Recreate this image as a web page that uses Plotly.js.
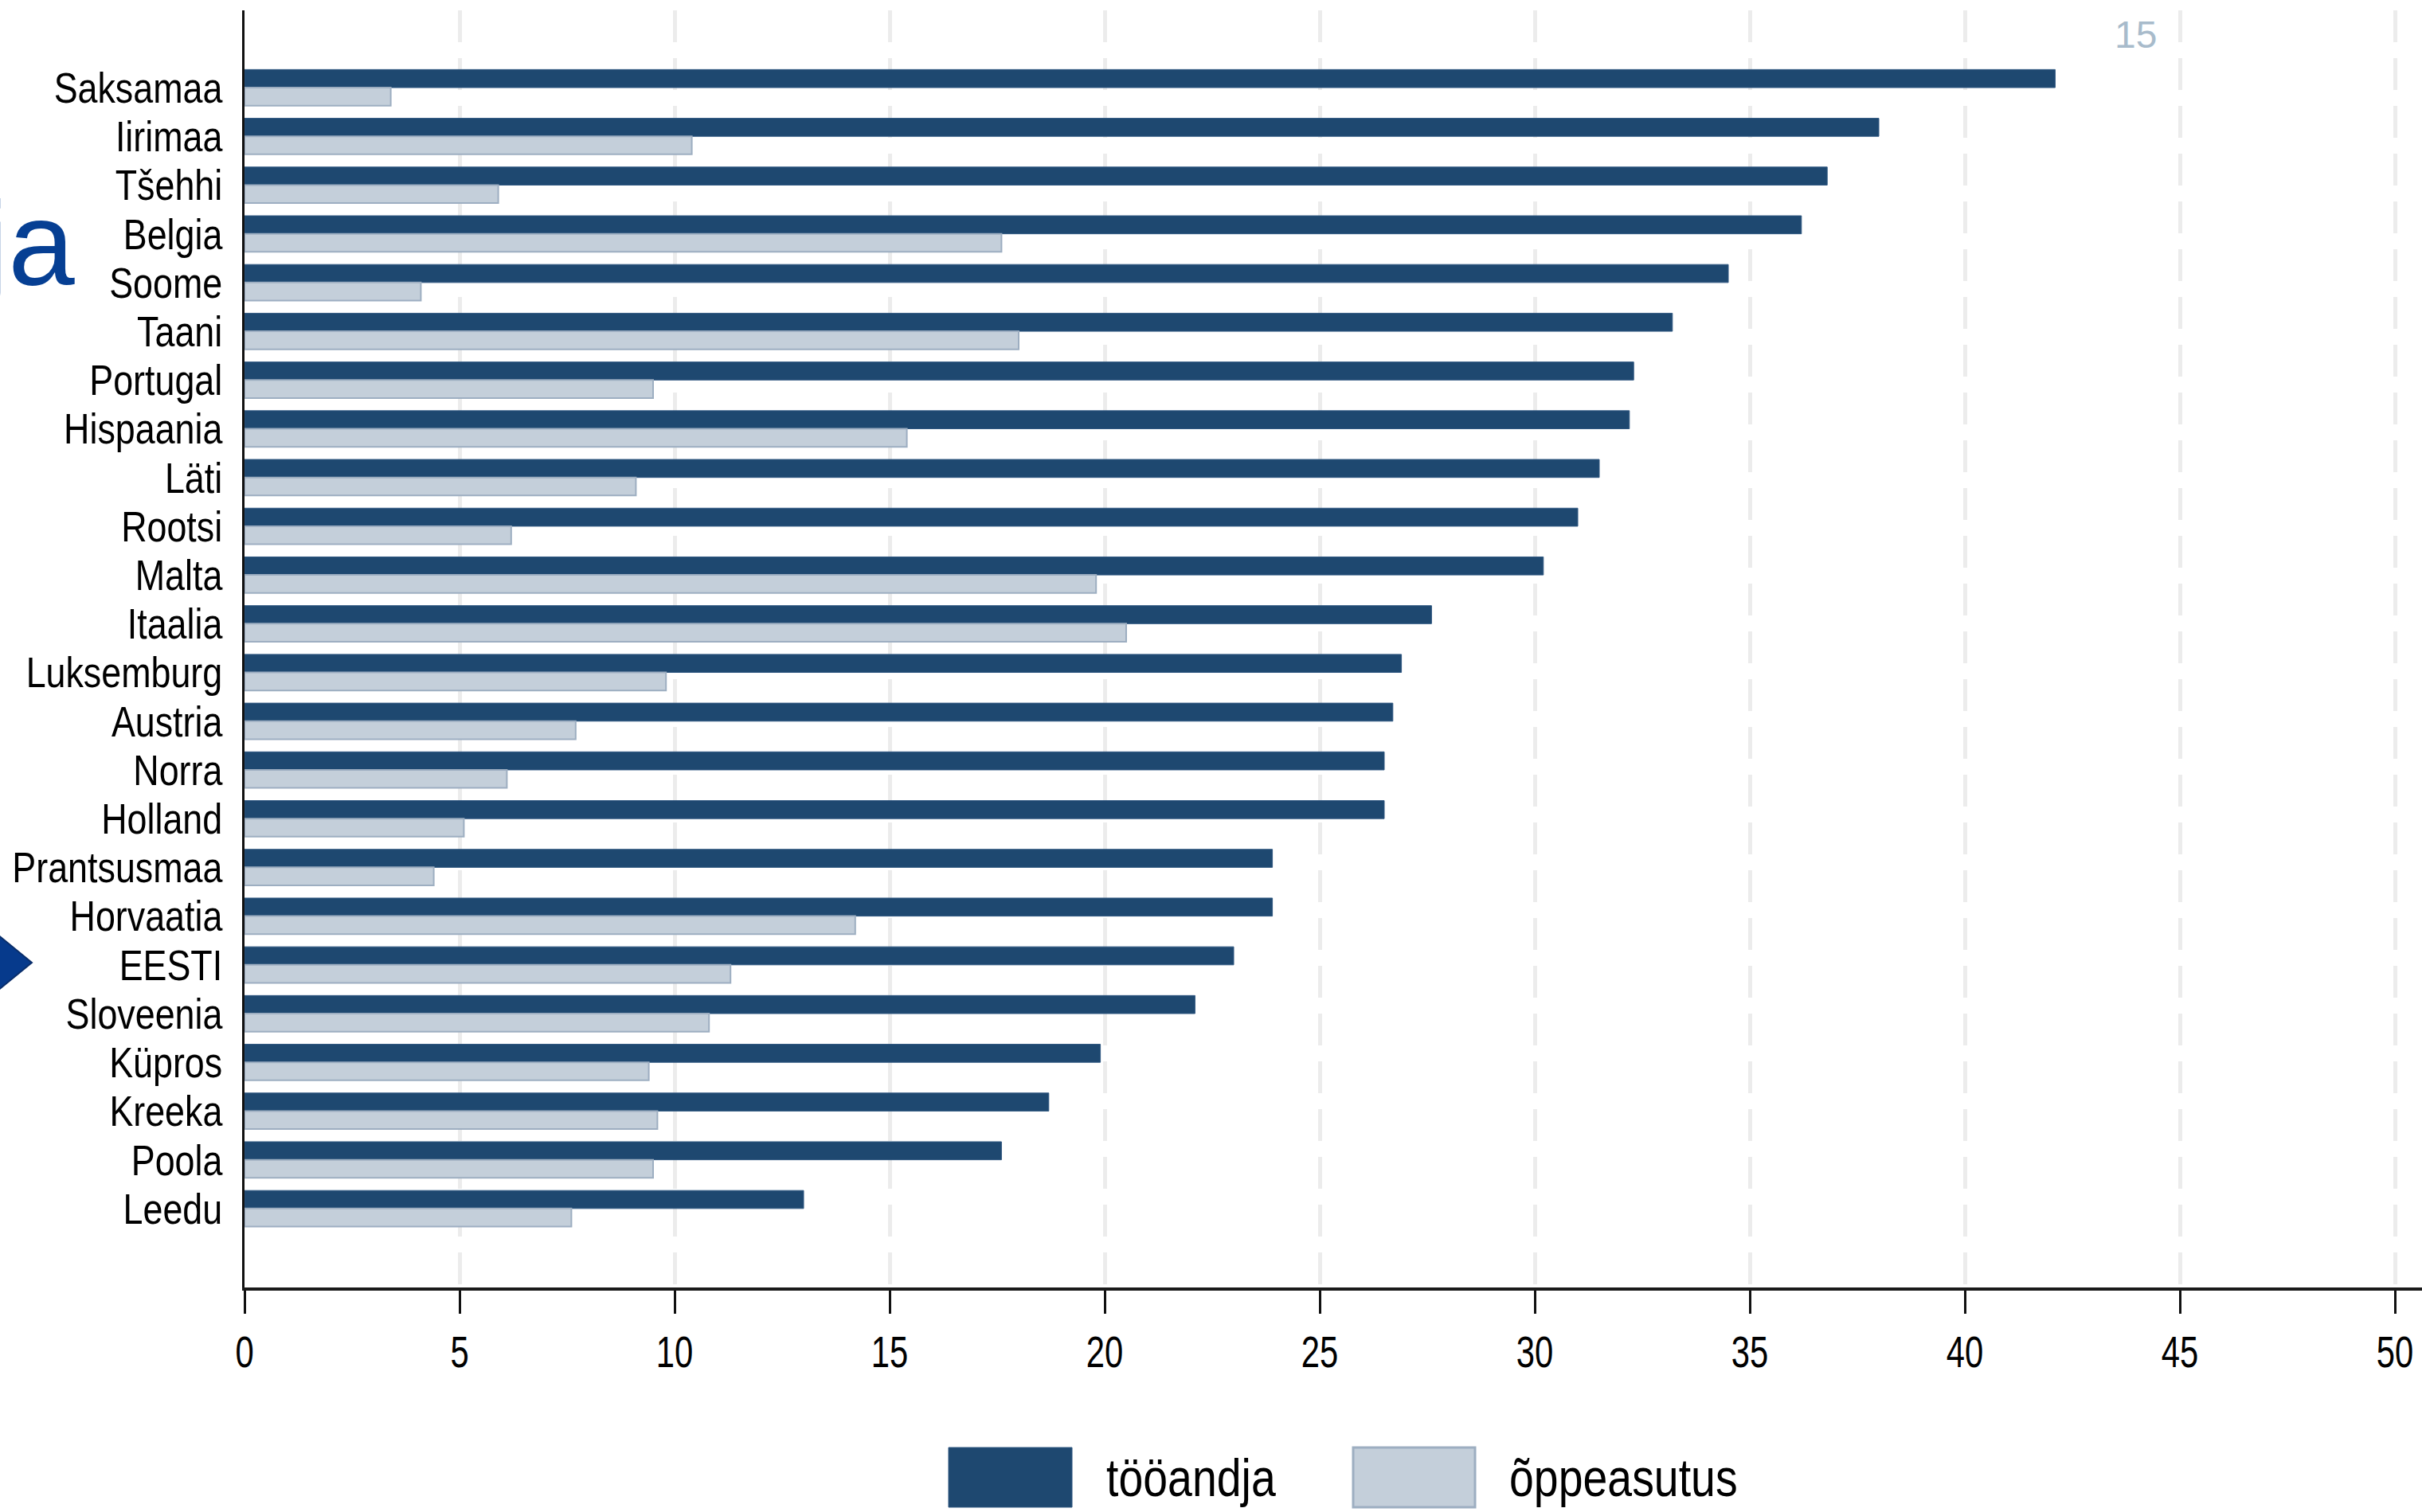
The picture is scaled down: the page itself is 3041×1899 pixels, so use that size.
<!DOCTYPE html>
<html>
<head>
<meta charset="utf-8">
<script src="https://cdn.plot.ly/plotly-3.0.1.min.js"></script>
<style>
html,body{margin:0;padding:0;background:#fff;}
#chart{width:3041px;height:1899px;}
</style>
</head>
<body>
<div id="chart"></div>
<script>
// Data
const countries = ["Saksamaa","Iirimaa","Tšehhi","Belgia","Soome","Taani","Portugal","Hispaania","Läti","Rootsi","Malta","Itaalia","Luksemburg","Austria","Norra","Holland","Prantsusmaa","Horvaatia","EESTI","Sloveenia","Küpros","Kreeka","Poola","Leedu"];
const tooandja = [42.1,38.0,36.8,36.2,34.5,33.2,32.3,32.2,31.5,31.0,30.2,27.6,26.9,26.7,26.5,26.5,23.9,23.9,23.0,22.1,19.9,18.7,17.6,13.0];
const oppeasutus = [3.4,10.4,5.9,17.6,4.1,18.0,9.5,15.4,9.1,6.2,19.8,20.5,9.8,7.7,6.1,5.1,4.4,14.2,11.3,10.8,9.4,9.6,9.5,7.6];
const seriesNames = ["tööandja","õppeasutus"];
const xTicks = [0,5,10,15,20,25,30,35,40,45,50];
const pageNumber = "15";
const titleFragment = "ja";

const darkCol = "#1E4870";
const lightCol = "#C4CFDA";

// use an Arial-Narrow-like font if installed, otherwise condense Liberation Sans
function hasFont(name){
  const c = document.createElement("canvas").getContext("2d");
  const t = "Luksemburg Prantsusmaa 0123456789";
  let diff = false;
  ["monospace","serif"].forEach(g=>{
    c.font = "50px " + g; const a = c.measureText(t).width;
    c.font = `50px "${name}", ${g}`; const b = c.measureText(t).width;
    if (Math.abs(a-b) > 0.5) diff = true;
  });
  return diff;
}
const narrowCandidates = ["Liberation Sans Narrow","Arial Narrow"];
const narrowFound = narrowCandidates.find(hasFont);
const narrow = narrowFound ? `"${narrowFound}", sans-serif` : "Liberation Sans, Arial, sans-serif";

const W = 3041, H = 1899;
const mL = 307, mR = 0, mT = 13, mB = 282;
const pw = W - mL - mR, ph = H - mT - mB;
const px = X => (X - mL) / pw;
const py = Y => (H - mB - Y) / ph;

const traces = [
  {type:"bar", orientation:"h", name:seriesNames[0], y:countries, x:tooandja,
   marker:{color:darkCol, line:{color:"#2F5780", width:1}}, showlegend:false},
  {type:"bar", orientation:"h", name:seriesNames[1], y:countries, x:oppeasutus,
   marker:{color:lightCol, line:{color:"#9DAEC1", width:2}}, showlegend:false}
];

const layout = {
  width:W, height:H,
  margin:{l:mL, r:mR, t:mT, b:mB, pad:0},
  paper_bgcolor:"#ffffff", plot_bgcolor:"#ffffff",
  barmode:"group", bargap:0.26, bargroupgap:0,
  showlegend:false,
  xaxis:{
    range:[0,(W-mL-mR)/54], tickmode:"array", tickvals:xTicks, ticktext:xTicks.map(String),
    showgrid:true, gridcolor:"#ECECEC", gridwidth:5, griddash:"40px,20px",
    zeroline:false, showline:true, linecolor:"#1a1a1a", linewidth:4,
    ticks:"outside", ticklen:29, tickwidth:3, tickcolor:"#111",
    tickfont:{family:narrow, size:55, color:"#000"}, ticklabelstandoff:1,
    fixedrange:true
  },
  yaxis:{
    type:"category", categoryorder:"array", categoryarray:countries,
    tickmode:"linear", tick0:0, dtick:1,
    range:[24.62,-1.585],
    showgrid:false, zeroline:false, showline:true, linecolor:"#111", linewidth:3,
    ticks:"", tickfont:{family:narrow, size:54, color:"#000"}, ticklabelstandoff:14,
    fixedrange:true
  },
  shapes:[
    // legend swatches
    {type:"rect", xref:"paper", yref:"paper", x0:px(1191), x1:px(1346), y0:py(1818), y1:py(1893),
     fillcolor:darkCol, line:{color:"#2F5780", width:1}},
    {type:"rect", xref:"paper", yref:"paper", x0:px(1699), x1:px(1852), y0:py(1818), y1:py(1893),
     fillcolor:lightCol, line:{color:"#9DAEC1", width:3}},
    // slide arrow marker at left edge
    {type:"path", xref:"paper", yref:"paper",
     path:`M ${px(-10)} ${py(1168)} L ${px(40)} ${py(1209)} L ${px(-10)} ${py(1250)} Z`,
     fillcolor:"#063A8C", line:{color:"#0A2E6A", width:2}}
  ],
  annotations:[
    {xref:"paper", yref:"paper", x:px(1387), y:py(1856), xanchor:"left", yanchor:"middle",
     text:seriesNames[0], showarrow:false, font:{family:narrow, size:66, color:"#000"}},
    {xref:"paper", yref:"paper", x:px(1893), y:py(1856), xanchor:"left", yanchor:"middle",
     text:seriesNames[1], showarrow:false, font:{family:narrow, size:66, color:"#000"}},
    {xref:"paper", yref:"paper", x:px(2681), y:py(43), xanchor:"center", yanchor:"middle",
     text:pageNumber, showarrow:false, font:{family:"Liberation Sans, Arial, sans-serif", size:48, color:"#A8BBCB"}},
    {xref:"paper", yref:"paper", x:px(96), y:py(306), xanchor:"right", yanchor:"middle",
     text:titleFragment, showarrow:false, font:{family:"Liberation Sans, Arial, sans-serif", size:150, color:"#063F93"}}
  ]
};

function condense(nodes, s, mode){
  nodes.forEach(t=>{
    const b = t.getBBox();
    const ax = mode==="left" ? b.x : mode==="right" ? b.x + b.width : b.x + b.width/2;
    const tr = t.getAttribute("transform") || "";
    t.setAttribute("transform", tr + ` translate(${ax},0) scale(${s},1) translate(${-ax},0)`);
  });
}

Plotly.newPlot("chart", traces, layout, {displayModeBar:false, staticPlot:true}).then(gd=>{
  if (!narrowFound){
    condense(gd.querySelectorAll(".ytick text"), 0.83, "right");
    condense(gd.querySelectorAll(".xtick text"), 0.76, "center");
    const legTexts = [];
    gd.querySelectorAll("g.annotation").forEach(g=>{
      const i = g.getAttribute("data-index");
      if (i === "0" || i === "1") legTexts.push(g.querySelector("text"));
    });
    condense(legTexts, 0.84, "left");
  }
});
</script>
</body>
</html>
